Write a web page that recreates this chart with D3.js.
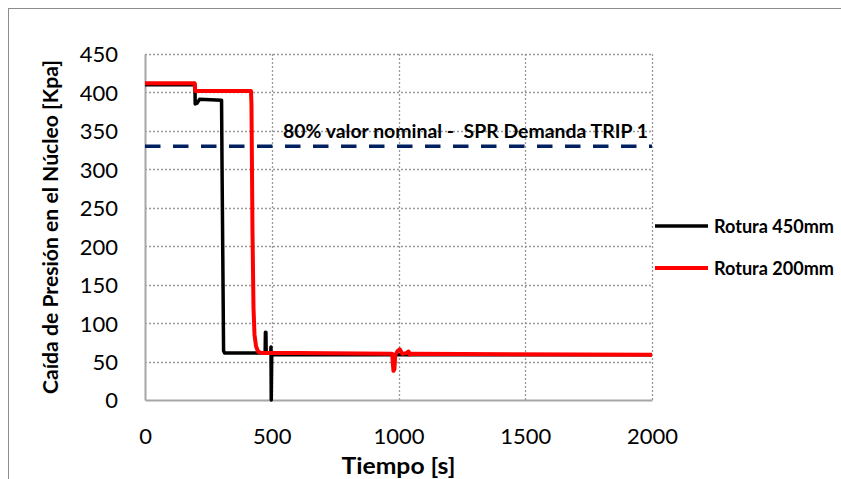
<!DOCTYPE html>
<html>
<head>
<meta charset="utf-8">
<script src="https://cdn.jsdelivr.net/npm/d3@7"></script>
<style>
  html, body { margin: 0; padding: 0; background: #fff; }
  svg { display: block; }
</style>
</head>
<body>
<div id="chart"></div>
<script>
// Series: time [s] and core pressure drop [kPa]
const timeBlack = [0, 197, 198, 205, 215, 302, 304, 310, 314, 474, 475, 477, 478, 496, 497, 498, 500, 2000];
const dpBlack   = [410, 410, 385, 386, 391, 390, 300, 64, 61, 61, 88, 88, 61, 61, 69, 0, 59, 59];

const timeRed = [0, 196, 198, 260, 418, 420, 424, 428, 432, 438, 446, 460, 600, 975, 980, 984, 987, 995, 1005, 1015, 1030, 1040, 1045, 1050, 2000];
const dpRed   = [412, 412, 402, 402, 402, 385, 220, 120, 85, 70, 63, 61, 61, 60, 38, 40, 58, 63, 66, 60, 61, 63, 59, 60, 59];

const seriesNames = ["Rotura 450mm", "Rotura 200mm"];
const seriesColors = ["#000000", "#ff0000"];

const thresholdValue = 330;
const thresholdLabel = "80% valor nominal -  SPR Demanda TRIP 1";

const xTicks = [0, 500, 1000, 1500, 2000];
const yTicks = [0, 50, 100, 150, 200, 250, 300, 350, 400, 450];

const width = 841, height = 479;
const plot = { left: 145, right: 652, top: 54, bottom: 400 };
const font = "Lato, 'Open Sans', sans-serif";

const svg = d3.select("#chart").append("svg")
  .attr("width", width)
  .attr("height", height)
  .attr("viewBox", [0, 0, width, height]);

svg.append("rect").attr("width", width).attr("height", height).attr("fill", "#fff");

// outer chart frame (runs past the right and bottom edges)
svg.append("rect")
  .attr("x", 8.5).attr("y", 8.5)
  .attr("width", 900).attr("height", 500)
  .attr("fill", "none")
  .attr("stroke", "#8c8c8c");

const x = d3.scaleLinear().domain([0, 2000]).range([plot.left, plot.right]);
const y = d3.scaleLinear().domain([0, 450]).range([plot.bottom, plot.top]);

// dotted gridlines
const grid = svg.append("g")
  .attr("stroke", "#999")
  .attr("stroke-width", 1.3)
  .attr("stroke-dasharray", "2,2");

grid.selectAll("line.h")
  .data(yTicks.filter(d => d > 0))
  .join("line")
  .attr("class", "h")
  .attr("x1", plot.left).attr("x2", plot.right)
  .attr("y1", d => Math.round(y(d)) + 0.5).attr("y2", d => Math.round(y(d)) + 0.5);

grid.selectAll("line.v")
  .data(xTicks.filter(d => d > 0))
  .join("line")
  .attr("class", "v")
  .attr("x1", d => Math.round(x(d)) + 0.5).attr("x2", d => Math.round(x(d)) + 0.5)
  .attr("y1", plot.top).attr("y2", plot.bottom);

// axes
const xAxis = svg.append("g")
  .attr("transform", `translate(0,${plot.bottom})`)
  .call(d3.axisBottom(x).tickValues(xTicks).tickFormat(d3.format("d")).tickSize(0).tickPadding(28));
const yAxis = svg.append("g")
  .attr("transform", `translate(${plot.left},0)`)
  .call(d3.axisLeft(y).tickValues(yTicks).tickSize(0).tickPadding(27));

[xAxis, yAxis].forEach(a => {
  a.select(".domain").attr("stroke", "#a6a6a6").attr("stroke-width", 2);
  a.selectAll(".tick text")
    .attr("font-family", font)
    .attr("font-size", 22)
    .attr("fill", "#000");
});
yAxis.selectAll(".tick text").attr("dy", "0.36em");

// axis titles
svg.append("text")
  .attr("x", (plot.left + plot.right) / 2)
  .attr("y", 474)
  .attr("text-anchor", "middle")
  .attr("font-family", font)
  .attr("font-weight", "bold")
  .attr("font-size", 23)
  .attr("textLength", 114)
  .attr("lengthAdjust", "spacingAndGlyphs")
  .text("Tiempo [s]");

svg.append("text")
  .attr("transform", `translate(58,${(plot.top + plot.bottom) / 2}) rotate(-90)`)
  .attr("text-anchor", "middle")
  .attr("font-family", font)
  .attr("font-weight", "bold")
  .attr("font-size", 20)
  .attr("textLength", 334)
  .attr("lengthAdjust", "spacingAndGlyphs")
  .text("Caída de Presión en el Núcleo [Kpa]");

// threshold line
svg.append("line")
  .attr("x1", x(0)).attr("x2", x(2000))
  .attr("y1", y(thresholdValue)).attr("y2", y(thresholdValue))
  .attr("stroke", "#002060")
  .attr("stroke-width", 3.5)
  .attr("stroke-dasharray", "15.5,12.5");

svg.append("text")
  .attr("x", 283)
  .attr("y", 138)
  .attr("font-family", font)
  .attr("font-weight", "bold")
  .attr("font-size", 18)
  .attr("textLength", 365)
  .attr("lengthAdjust", "spacingAndGlyphs")
  .style("white-space", "pre")
  .text(thresholdLabel);

// series
const line = d3.line().x(d => x(d[0])).y(d => y(d[1]));
const series = [
  d3.zip(timeBlack, dpBlack),
  d3.zip(timeRed, dpRed)
];
const widths = [3.5, 4];

svg.append("g")
  .selectAll("path")
  .data(series)
  .join("path")
  .attr("d", line)
  .attr("fill", "none")
  .attr("stroke", (d, i) => seriesColors[i])
  .attr("stroke-width", (d, i) => widths[i])
  .attr("stroke-linejoin", "round");

// legend
const legend = svg.append("g")
  .selectAll("g")
  .data(seriesNames)
  .join("g")
  .attr("transform", (d, i) => `translate(655,${226 + i * 42})`);

legend.append("line")
  .attr("x1", 0).attr("x2", 53)
  .attr("stroke", (d, i) => seriesColors[i])
  .attr("stroke-width", (d, i) => widths[i]);

legend.append("text")
  .attr("x", 59)
  .attr("y", 7)
  .attr("font-family", font)
  .attr("font-weight", "bold")
  .attr("font-size", 18.5)
  .attr("textLength", 120)
  .attr("lengthAdjust", "spacingAndGlyphs")
  .text(d => d);
</script>
</body>
</html>
